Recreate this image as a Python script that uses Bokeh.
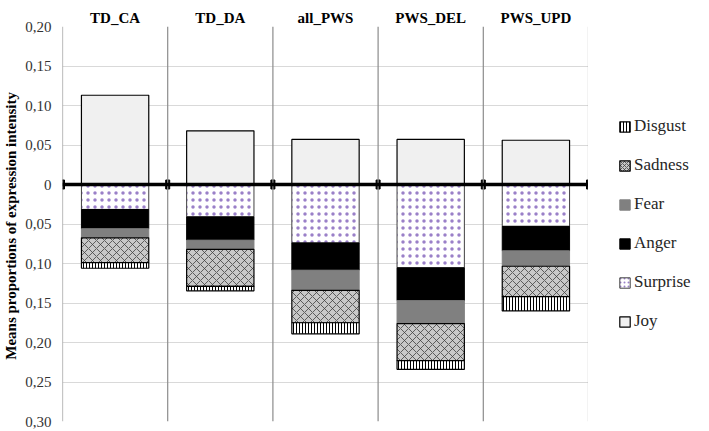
from bokeh.plotting import figure
from bokeh.layouts import row
from bokeh.models import (FactorRange, Range1d, Span, FixedTicker, CustomJSTickFormatter,
                          Legend, LegendItem, ColumnDataSource)
from bokeh.embed import file_html
from bokeh.resources import INLINE

cats = ["TD_CA", "TD_DA", "all_PWS", "PWS_DEL", "PWS_UPD"]
joy = [0.113, 0.068, 0.057, 0.057, 0.056]
surprise = [0.0316, 0.041, 0.074, 0.1055, 0.053]
anger = [0.0244, 0.0295, 0.0345, 0.0415, 0.031]
fear = [0.0115, 0.0115, 0.0255, 0.029, 0.0195]
sadness = [0.0315, 0.047, 0.041, 0.047, 0.0385]
disgust = [0.007, 0.0056, 0.014, 0.011, 0.018]
y_ticks = [-0.30, -0.25, -0.20, -0.15, -0.10, -0.05, 0, 0.05, 0.10, 0.15, 0.20]
boundaries = [0, 1, 2, 3, 4, 5]
legend_labels = ["Disgust", "Sadness", "Fear", "Anger", "Surprise", "Joy"]

FONT = "Liberation Serif"

# styles per emotion (Surprise, Anger, Fear, Sadness, Disgust)
neg_cols = ["surprise", "anger", "fear", "sadness", "disgust"]
neg_fill = ["white", "black", "#808080", "#c8c8c8", "white"]
neg_line = ["#404040", "black", "#808080", "black", "black"]
neg_lw = [1, 1, 1, 1.2, 1.2]
neg_hatch = ["dot", None, None, "diagonal_cross", "vertical_line"]
neg_hcol = ["#9a80c8", "black", "black", "#404040", "black"]
neg_hscale = [7, 12, 12, 8, 3]
neg_hw = [1, 1, 1, 0.8, 1]

source = ColumnDataSource(dict(
    cat=cats, joy=joy,
    surprise=[-v for v in surprise], anger=[-v for v in anger], fear=[-v for v in fear],
    sadness=[-v for v in sadness], disgust=[-v for v in disgust],
))

p = figure(x_range=FactorRange(factors=cats, range_padding=0), y_range=Range1d(-0.30, 0.20),
           frame_width=526, frame_height=395, output_backend="svg", toolbar_location=None,
           x_axis_location="above", min_border_left=58, min_border_top=26,
           min_border_bottom=8, min_border_right=0)
p.outline_line_color = None
p.background_fill_color = "white"
p.xgrid.grid_line_color = None
p.ygrid.ticker = FixedTicker(ticks=y_ticks)
p.ygrid.grid_line_color = "#d9d9d9"
p.ygrid.grid_line_width = 1

# y axis
p.yaxis.ticker = FixedTicker(ticks=y_ticks)
p.yaxis.formatter = CustomJSTickFormatter(
    code="return Math.abs(tick) < 1e-9 ? '0' : Math.abs(tick).toFixed(2).replace('.', ',');")
p.yaxis.axis_line_color = None
p.yaxis.major_tick_line_color = None
p.yaxis.major_tick_out = 0
p.yaxis.major_tick_in = 0
p.yaxis.minor_tick_line_color = None
p.yaxis.major_label_standoff = 11
p.yaxis.major_label_text_font = FONT
p.yaxis.major_label_text_font_size = "15px"
p.yaxis.major_label_text_color = "#333333"
p.yaxis.axis_label = "Means proportions  of expression intensity"
p.yaxis.axis_label_text_font = FONT
p.yaxis.axis_label_text_font_size = "15px"
p.yaxis.axis_label_text_font_style = "bold"
p.yaxis.axis_label_text_color = "black"
p.yaxis.axis_label_standoff = 3

# x axis (above)
p.xaxis.axis_line_color = None
p.xaxis.major_tick_line_color = None
p.xaxis.major_tick_out = 0
p.xaxis.major_tick_in = 0
p.xaxis.minor_tick_line_color = None
p.xaxis.major_label_standoff = 1
p.xaxis.major_label_text_font = FONT
p.xaxis.major_label_text_font_size = "15px"
p.xaxis.major_label_text_font_style = "bold"
p.xaxis.major_label_text_color = "black"

# separators
for b in boundaries:
    p.add_layout(Span(location=b, dimension="height", line_color="#8c8c8c", line_width=1.2))

joy_r = p.vbar(x="cat", top="joy", bottom=0, width=0.64, source=source,
               fill_color="#f0f0f0", line_color="black", line_width=1.2)

neg = p.vbar_stack(neg_cols, x="cat", width=0.64,
                   source=source, fill_color=neg_fill, line_color=neg_line, line_width=neg_lw,
                   hatch_pattern=neg_hatch, hatch_color=neg_hcol, hatch_scale=neg_hscale,
                   hatch_weight=neg_hw)

# zero line
p.add_layout(Span(location=0, dimension="width", line_color="black", line_width=3.5))
p.rect(x=boundaries, y=[0] * len(boundaries), width=4, height=9, width_units="screen",
       height_units="screen", fill_color="black", line_color="black")

# legend panel: a blank figure whose (hidden) renderers only provide legend swatches
p2 = figure(width=114, height=429, output_backend="svg", toolbar_location=None,
            x_axis_type=None, y_axis_type=None, min_border=0,
            x_range=FactorRange(factors=cats), y_range=Range1d(5, 6))
p2.outline_line_color = None
p2.grid.visible = False

leg_r = []
for i in [4, 3, 2, 1, 0]:
    leg_r.append(p2.vbar(x="cat", top=neg_cols[i], bottom=0, width=0.5, source=source,
                         fill_color=neg_fill[i], line_color=neg_line[i],
                         line_width=neg_lw[i], hatch_pattern=neg_hatch[i], hatch_color=neg_hcol[i],
                         hatch_scale=min(neg_hscale[i], 4), hatch_weight=neg_hw[i],
                         visible=False))
leg_r.append(p2.vbar(x="cat", top="joy", bottom=0, width=0.5, source=source,
                     fill_color="#f0f0f0", line_color="black", line_width=1.2, visible=False))

legend = Legend(items=[LegendItem(label=lab, renderers=[r]) for lab, r in zip(legend_labels, leg_r)],
                location=(30, 88), border_line_color=None, background_fill_alpha=0,
                inactive_fill_alpha=0,
                label_text_font=FONT, label_text_font_size="17px", label_text_color="#262626",
                glyph_width=13, glyph_height=13, label_height=24, spacing=15, padding=0,
                margin=0, label_standoff=3)
p2.add_layout(legend, "center")

layout = row(p, p2)
open("out.html", "w").write(file_html(layout, INLINE))
